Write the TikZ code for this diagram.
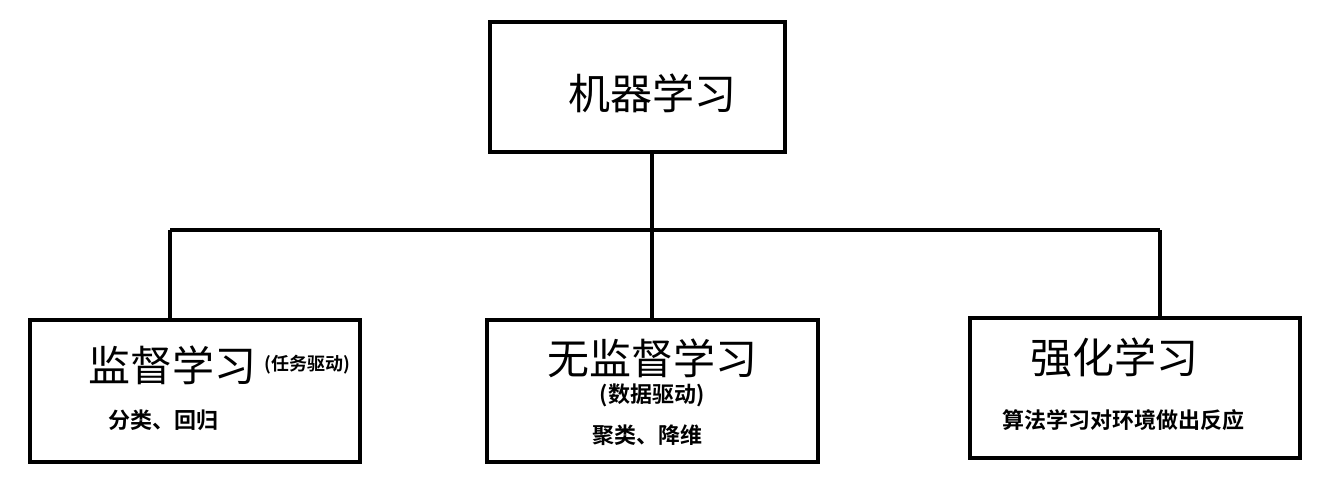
\documentclass[tikz,border=0pt]{standalone}
\usepackage{fontspec}
\newfontfamily\cjk{Noto Sans CJK SC}
\newfontfamily\cjkb{Noto Sans CJK SC Bold}
\begin{document}
\begin{tikzpicture}[x=1pt,y=-1pt,
  box/.style={draw,line width=4pt},
  big/.style={font=\cjk\fontsize{42}{42}\selectfont,inner sep=0},
  small/.style={font=\cjkb\fontsize{22}{22}\selectfont,inner sep=0},
  tiny/.style={font=\cjkb\fontsize{18}{18}\selectfont,inner sep=0},
  ln/.style={line width=4pt}]
\useasboundingbox[fill=white] (0,0) rectangle (1338,498);
\draw[box] (490,22) rectangle (785,152);
\draw[box] (30,320) rectangle (360,462);
\draw[box] (487,320) rectangle (818,462);
\draw[box] (970,318) rectangle (1300,458);
\coordinate (tb) at (652,152);
\coordinate (j) at (652,230);
\coordinate (l) at (170,230);
\coordinate (r) at (1160,230);
\coordinate (lb) at (170,320);
\coordinate (mb) at (652,320);
\coordinate (rb) at (1160,318);
\draw[ln] (tb) -- (j);
\draw[ln] (l) -- (r);
\draw[ln] (l) -- (lb);
\draw[ln] (j) -- (mb);
\draw[ln] (r) -- (rb);
\node[big] (t) at (652,93) {机器学习};
\node[big,anchor=west] (a) at (88,365) {监督学习};
\node[tiny,anchor=west] (a2) at (264,365) {(任务驱动)};
\node[small,anchor=west] (a3) at (108,420) {分类、回归};
\node[big] (b) at (652,358) {无监督学习};
\node[small] (b2) at (652,395) {(数据驱动)};
\node[small] (b3) at (647,435) {聚类、降维};
\node[big,anchor=west] (c) at (1030,358) {强化学习};
\node[small,anchor=west] (c2) at (1002,420) {算法学习对环境做出反应};
\end{tikzpicture}
\end{document}
